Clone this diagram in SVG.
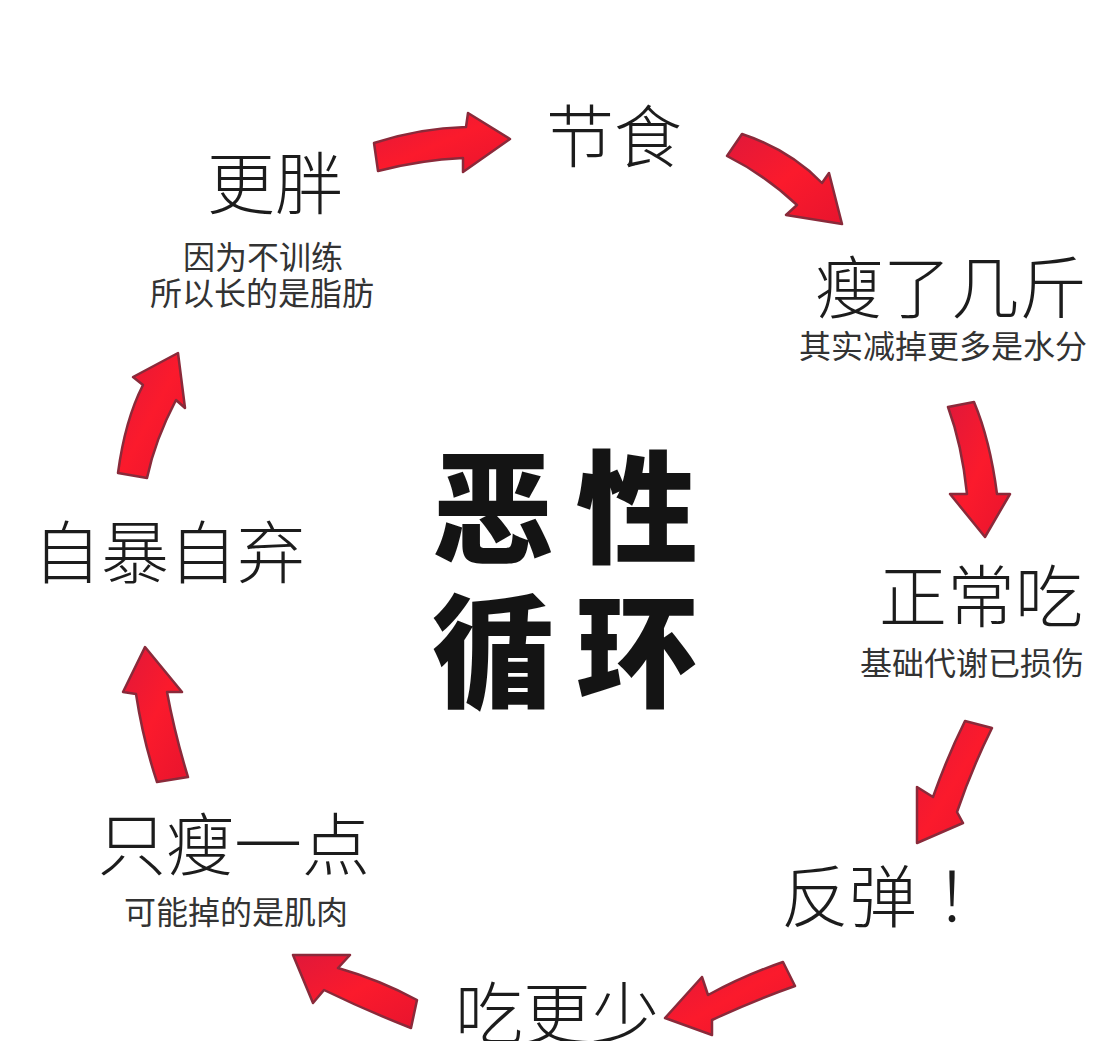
<svg xmlns="http://www.w3.org/2000/svg" width="1116" height="1041" viewBox="0 0 1116 1041">
<defs>
<linearGradient id="rg" x1="0" y1="0" x2="1" y2="1">
<stop offset="0" stop-color="#e0183a"/>
<stop offset="0.5" stop-color="#fb1a2c"/>
<stop offset="1" stop-color="#e8142e"/>
</linearGradient>
<style>
.arr{fill:url(#rg);stroke:#8a2a3a;stroke-width:2.5;stroke-linejoin:round}
.t{font-family:"Noto Sans CJK SC","Noto Sans",sans-serif;fill:#1c1c1c;text-anchor:middle;font-weight:300}
.big{font-size:68px}
.sm{font-size:32px;fill:#333;font-weight:400}
.title{font-family:"Noto Sans CJK SC","Noto Sans",sans-serif;font-size:122px;font-weight:900;fill:#141414;text-anchor:middle}
</style>
</defs>
<rect width="1116" height="1041" fill="#ffffff"/>
<g id="connectors">
<path class="arr" d="M374,143 Q420,128 466,127 L468,113 L510,139 L463,172 L463,158 Q420,160 378,171 Z"/>
<path class="arr" d="M742,134 Q790,150 822,183 L829,173 L842,224 L786,215 L797,205 Q765,175 727,156 Z"/>
<path class="arr" d="M948,407 Q962,445 967,494 L950,494 L985,537 L1010,494 L997,494 Q990,440 974,402 Z"/>
<path class="arr" d="M965,721 Q948,755 933,797 L917,787 L917,843 L963,823 L957,812 Q972,768 992,728 Z"/>
<path class="arr" d="M783,962 Q745,975 708,995 L702,977 L665,1018 L712,1035 L712,1020 Q755,1000 795,986 Z"/>
<path class="arr" d="M293,955 L350,955 L338,968 Q380,980 417,1000 L411,1028 Q365,1010 324,990 L313,1003 Z"/>
<path class="arr" d="M145,647 L182,692 L167,692 Q175,735 188,777 L157,782 Q143,740 136,694 L123,692 Z"/>
<path class="arr" d="M178,353 L185,408 L176,400 Q155,440 147,478 L118,473 Q125,420 143,385 L133,377 Z"/>
</g>
<g id="title">
<text class="title" x="493" y="553">恶</text>
<text class="title" x="637" y="553">性</text>
<text class="title" x="493" y="697">循</text>
<text class="title" x="637" y="697">环</text>
</g>
<g id="node-jieshi"><text class="t big" x="614" y="162">节食</text></g>
<g id="node-shouleji"><text class="t big" x="951" y="313">瘦了几斤</text><text class="t sm" x="943" y="358">其实减掉更多是水分</text></g>
<g id="node-zhengchang"><text class="t big" x="981" y="622">正常吃</text><text class="t sm" x="972" y="675">基础代谢已损伤</text></g>
<g id="node-fantan"><text class="t big" x="781" y="922" style="text-anchor:start">反弹<tspan dx="18">！</tspan></text></g>
<g id="node-chigengshao"><text class="t big" x="557" y="1039">吃更少</text></g>
<g id="node-zhishou"><text class="t big" x="234" y="870">只瘦一点</text><text class="t sm" x="236" y="924">可能掉的是肌肉</text></g>
<g id="node-zibao"><text class="t big" x="169" y="578">自暴自弃</text></g>
<g id="node-gengpang"><text class="t big" x="275" y="209">更胖</text><text class="t sm" x="263" y="269">因为不训练</text><text class="t sm" x="262" y="305">所以长的是脂肪</text></g>
</svg>
